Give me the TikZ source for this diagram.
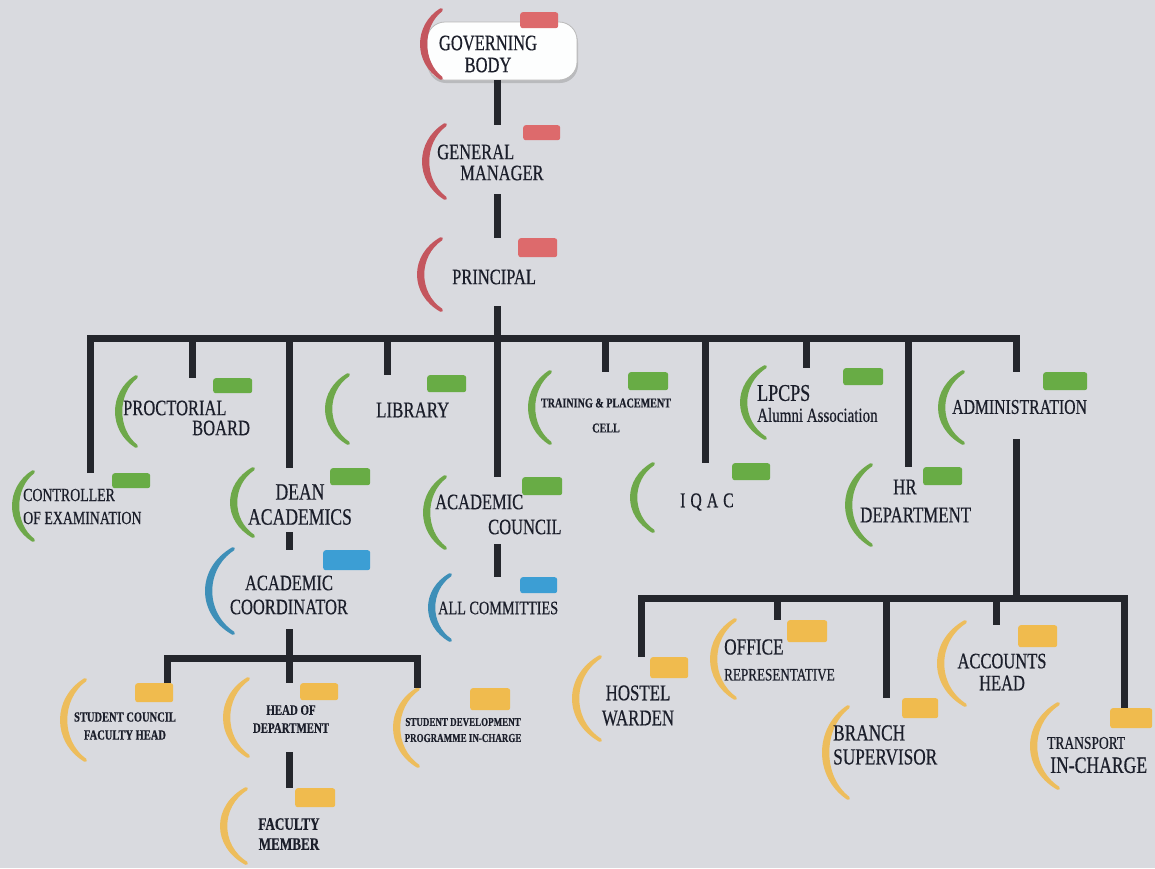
\documentclass[tikz,border=0pt]{standalone}
\usepackage{fontspec}
\setmainfont{Liberation Serif}[FakeStretch=0.75, FakeBold=0.5]
\usetikzlibrary{positioning,calc,shadows}

\definecolor{bgcol}{HTML}{D9DADF}
\definecolor{ink}{HTML}{1B1E2A}
\definecolor{linkcol}{HTML}{24262C}
\definecolor{redarc}{HTML}{C4565E}
\definecolor{redtab}{HTML}{DD6A6C}
\definecolor{greenarc}{HTML}{6EA84A}
\definecolor{greentab}{HTML}{68AC45}
\definecolor{bluearc}{HTML}{3E8FB8}
\definecolor{bluetab}{HTML}{3C9ED4}
\definecolor{yelarc}{HTML}{EDBD5C}
\definecolor{yeltab}{HTML}{F0BB4E}

\newcommand{\orgsize}[2]{\fontsize{#1}{#2}\selectfont}
% bracket arc: name, colour, left x, right x, top y, bottom y
\newcommand{\orgarc}[6]{%
  \pgfmathsetmacro{\arcW}{#4-#3-3.5}%
  \pgfmathsetmacro{\arcH}{#6-#5-3.5}%
  \filldraw[draw=#2, fill=#2, line width=3.5pt, line join=round, line cap=round]
    (#4-1.75, #5+1.75) .. controls +(-1.333*\arcW, 0.236*\arcH) and +(-1.333*\arcW, -0.236*\arcH) .. (#4-1.75, #6-1.75)
    .. controls +(-1.333*\arcW+5, -0.236*\arcH) and +(-1.333*\arcW+5, 0.236*\arcH) .. (#4-1.75, #5+1.75) -- cycle;
  \coordinate (#1-b) at (#4, #6-6);
}

\begin{document}
\begin{tikzpicture}[x=1pt, y=-1pt,
    link/.style={draw=linkcol, line width=7pt, line join=miter},
    tabbox/.style={fill=#1, rounded corners=2.5pt, minimum width=39, minimum height=17, inner sep=0pt, anchor=north west},
    txt/.style={inner sep=0pt, text=ink, align=left, anchor=west},
    ctxt/.style={inner sep=0pt, text=ink, align=center}]

    % background
    \fill[bgcol] (0,0) rectangle (1155,868);
    \useasboundingbox (0,0) rectangle (1155,868);

    % top box
    \node[draw=gray!55, fill=white!96!bgcol, rounded corners=18pt, minimum width=150, minimum height=58,
          line width=0.8pt, drop shadow={shadow xshift=1pt, shadow yshift=-3pt, opacity=0.35}] (gb) at (502,51) {};

    % arcs
    \orgarc{gb}{redarc}{420}{443}{8}{80}
    \orgarc{gm}{redarc}{422}{447}{123}{200}
    \orgarc{pr}{redarc}{417}{443}{237}{312}
    \orgarc{proc}{greenarc}{115}{138}{375}{448}
    \orgarc{lib}{greenarc}{325}{350}{373}{445}
    \orgarc{tpc}{greenarc}{528}{552}{370}{445}
    \orgarc{lpcps}{greenarc}{740}{767}{365}{440}
    \orgarc{admin}{greenarc}{938}{965}{370}{445}
    \orgarc{coe}{greenarc}{12}{35}{470}{542}
    \orgarc{dean}{greenarc}{230}{255}{467}{538}
    \orgarc{acc}{greenarc}{423}{447}{475}{550}
    \orgarc{iqac}{greenarc}{630}{655}{462}{533}
    \orgarc{hr}{greenarc}{845}{873}{463}{547}
    \orgarc{acoord}{bluearc}{205}{235}{547}{635}
    \orgarc{allc}{bluearc}{428}{452}{573}{642}
    \orgarc{scfh}{yelarc}{60}{87}{678}{762}
    \orgarc{hod}{yelarc}{223}{250}{677}{758}
    \orgarc{sdp}{yelarc}{393}{420}{687}{768}
    \orgarc{fm}{yelarc}{220}{248}{787}{865}
    \orgarc{hostel}{yelarc}{572}{602}{655}{742}
    \orgarc{office}{yelarc}{710}{737}{618}{700}
    \orgarc{branch}{yelarc}{822}{850}{705}{800}
    \orgarc{accounts}{yelarc}{937}{967}{620}{707}
    \orgarc{transport}{yelarc}{1030}{1060}{702}{790}

    % tabs
    \node[tabbox=redtab, minimum width=38, minimum height=16] (gb-t) at (520,12) {};
    \node[tabbox=redtab, minimum width=37, minimum height=15] (gm-t) at (523,125) {};
    \node[tabbox=redtab, minimum height=19] (pr-t) at (518,238) {};
    \node[tabbox=greentab, minimum height=15] (proc-t) at (213,378) {};
    \node[tabbox=greentab] (lib-t) at (427,375) {};
    \node[tabbox=greentab, minimum width=40, minimum height=18] (tpc-t) at (628,372) {};
    \node[tabbox=greentab, minimum width=40] (lpcps-t) at (843,368) {};
    \node[tabbox=greentab, minimum width=44, minimum height=18] (admin-t) at (1043,372) {};
    \node[tabbox=greentab, minimum width=38, minimum height=15] (coe-t) at (112,473) {};
    \node[tabbox=greentab, minimum width=40] (dean-t) at (330,468) {};
    \node[tabbox=greentab, minimum width=40, minimum height=18] (acc-t) at (522,477) {};
    \node[tabbox=greentab, minimum width=38] (iqac-t) at (732,463) {};
    \node[tabbox=greentab, minimum height=18] (hr-t) at (923,467) {};
    \node[tabbox=bluetab, minimum width=47, minimum height=20] (acoord-t) at (323,550) {};
    \node[tabbox=bluetab, minimum width=37, minimum height=16] (allc-t) at (520,577) {};
    \node[tabbox=yeltab, minimum width=38, minimum height=19] (scfh-t) at (135,683) {};
    \node[tabbox=yeltab, minimum width=38] (hod-t) at (300,683) {};
    \node[tabbox=yeltab, minimum width=40, minimum height=22] (sdp-t) at (470,688) {};
    \node[tabbox=yeltab, minimum width=40, minimum height=19] (fm-t) at (295,788) {};
    \node[tabbox=yeltab, minimum width=38, minimum height=21] (hostel-t) at (650,657) {};
    \node[tabbox=yeltab, minimum width=40, minimum height=22] (office-t) at (787,620) {};
    \node[tabbox=yeltab, minimum width=36, minimum height=20] (branch-t) at (902,698) {};
    \node[tabbox=yeltab, minimum height=22] (accounts-t) at (1018,625) {};
    \node[tabbox=yeltab, minimum width=42, minimum height=20] (transport-t) at (1110,708) {};

    % bus columns
    \foreach \n/\x in {coe/90, proc/192, dean/289, lib/387, acc/497, tpc/605, iqac/705, lpcps/806, hr/908, admin/1016}
        \coordinate (\n-d) at (\x,338);
    \foreach \n/\x in {scfh/167, hod/289, sdp/417}
        \coordinate (\n-d) at (\x,658);
    \foreach \n/\x in {hostel/641, office/777, branch/886, accounts/996, transport/1124}
        \coordinate (\n-d) at (\x,598);

    % connectors
    \draw[link] (gb.south -| acc-d) -- (acc-d |- gm-t.north);
    \draw[link] (gm-b -| acc-d) -- (acc-d |- pr-t.north);
    \draw[link] (pr-b -| acc-d) -- (acc-d);
    \draw[link] (coe-d |- coe-t.north) -- (coe-d) -- (admin-d) -- (admin-d |- admin-t.north);
    \foreach \n in {proc, dean, lib, acc, tpc, iqac, lpcps, hr}
        \draw[link] (\n-d) -- (\n-d |- \n-t.north);
    \draw[link] (dean-b -| dean-d) -- (dean-d |- acoord-t.north);
    \draw[link] (acc-b -| acc-d) -- (acc-d |- allc-t.north);
    \draw[link] (acoord-b -| hod-d) -- (hod-d |- hod-t.north);
    \draw[link] (scfh-d |- scfh-t.north) -- (scfh-d) -- (sdp-d) -- (sdp-d |- sdp-t.north);
    \draw[link] (hod-b -| hod-d) -- (hod-d |- fm-t.north);
    \draw[link] (admin-b -| admin-d) -- (admin-d |- hostel-d);
    \draw[link] (hostel-d |- hostel-t.north) -- (hostel-d) -- (transport-d) -- (transport-d |- transport-t.north);
    \foreach \n in {office, branch, accounts}
        \draw[link] (\n-d) -- (\n-d |- \n-t.north);

    % texts
    \node[ctxt, font=\orgsize{22}{22}] (gb-x) at (488,54) {GOVERNING\\BODY};
    \node[txt, font=\orgsize{22}{21}] (gm) at (437,162.5) {GENERAL\\\hspace*{23pt}MANAGER};
    \node[txt, font=\orgsize{22}{22}] (pr) at (452,277) {PRINCIPAL};
    \node[txt, font=\orgsize{22}{20}] (proc) at (123,418) {PROCTORIAL\\\hspace*{69pt}BOARD};
    \node[txt, font=\orgsize{22.5}{22}] (lib) at (376,410) {LIBRARY};
    \node[ctxt, font=\bfseries\orgsize{13.5}{25}] (tpc) at (606,415.5) {TRAINING \& PLACEMENT\\CELL};
    \node[txt, font=\orgsize{24}{21}] (lpcps) at (757,403.5) {LPCPS\\{\orgsize{20}{20}Alumni Association}};
    \node[txt, font=\orgsize{21}{21}] (admin) at (952,407) {ADMINISTRATION};
    \node[txt, font=\orgsize{18.5}{23}] (coe) at (23,506.5) {CONTROLLER\\OF EXAMINATION};
    \node[ctxt, font=\orgsize{23.5}{25}] (dean) at (300,504.5) {DEAN\\ACADEMICS};
    \node[txt, font=\orgsize{22}{25}] (acc) at (435,514.5) {ACADEMIC\\\hspace*{53pt}COUNCIL};
    \node[txt, font=\orgsize{21}{21}] (iqac) at (680,502) {I\hspace{5pt}Q\hspace{5pt}A\hspace{5pt}C};
    \node[txt, font=\orgsize{22.5}{28}] (hr) at (860,501) {\hspace*{33pt}HR\\DEPARTMENT};
    \node[ctxt, font=\orgsize{22}{24}] (acoord) at (289,595) {ACADEMIC\\COORDINATOR};
    \node[txt, font=\orgsize{19}{19}] (allc) at (438,608) {ALL COMMITTIES};
    \node[ctxt, font=\bfseries\orgsize{14}{18}] (scfh) at (125,726) {STUDENT COUNCIL\\FACULTY HEAD};
    \node[ctxt, font=\bfseries\orgsize{14.5}{18}] (hod) at (291,719) {HEAD OF\\DEPARTMENT};
    \node[ctxt, font=\bfseries\orgsize{12}{16}] (sdp) at (463,730) {STUDENT DEVELOPMENT\\PROGRAMME IN-CHARGE};
    \node[ctxt, font=\bfseries\orgsize{17.5}{20}] (fm) at (289,834) {FACULTY\\MEMBER};
    \node[ctxt, font=\orgsize{22.5}{25}] (hostel) at (638,705.5) {HOSTEL\\WARDEN};
    \node[txt, font=\orgsize{17.5}{26}] (office) at (724,660) {{\orgsize{23}{23}OFFICE}\\REPRESENTATIVE};
    \node[txt, font=\orgsize{23}{24}] (branch) at (833,745) {BRANCH\\SUPERVISOR};
    \node[ctxt, font=\orgsize{22}{22}] (accounts) at (1002,672) {ACCOUNTS\\HEAD};
    \node[txt, font=\orgsize{23.5}{24}] (transport) at (1047,755) {{\orgsize{18}{18}TRANSPORT}\\\hspace*{3pt}IN-CHARGE};
\end{tikzpicture}
\end{document}
